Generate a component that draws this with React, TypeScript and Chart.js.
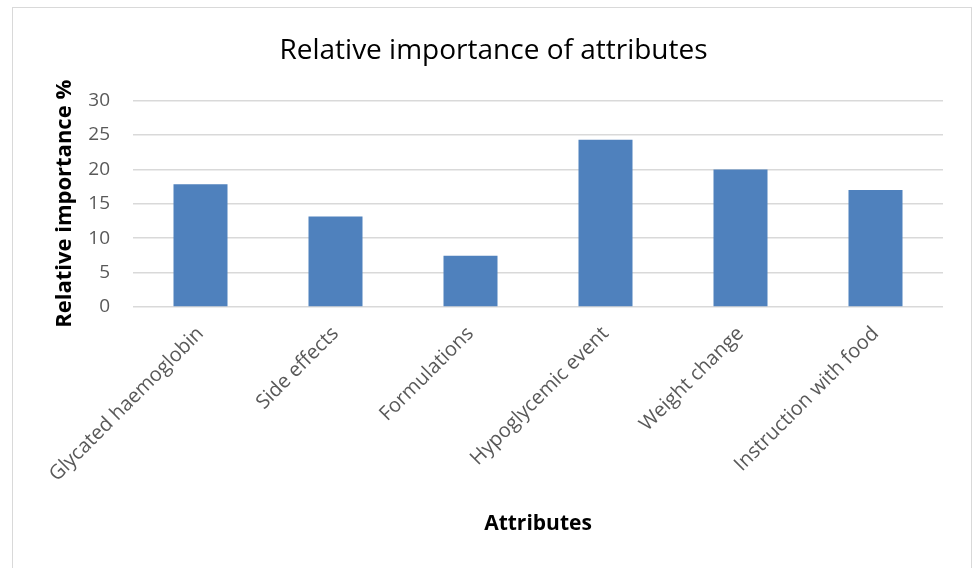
import React, { useEffect, useRef } from "react";
import { Chart, registerables } from "chart.js";

Chart.register(...registerables);

const categories = [
  "Glycated haemoglobin",
  "Side effects",
  "Formulations",
  "Hypoglycemic event",
  "Weight change",
  "Instruction with food",
];
const importance = [17.85, 13.15, 7.45, 24.3, 20.0, 17.0];
const titleText = "Relative importance of attributes";
const yTitle = "Relative importance %";
const xTitle = "Attributes";

const FONT = "'Open Sans', 'DejaVu Sans', sans-serif";

export default function App() {
  const ref = useRef<HTMLCanvasElement | null>(null);
  useEffect(() => {
    if (!ref.current) return;
    const chart = new Chart(ref.current, {
      type: "bar",
      data: {
        labels: categories,
        datasets: [
          {
            data: importance,
            backgroundColor: "#4f81bd",
            borderColor: "#4f81bd",
            borderWidth: 0,
            barPercentage: 0.4,
            categoryPercentage: 1,
          },
        ],
      },
      options: {
        responsive: false,
        animation: false,
        layout: { padding: { left: 31, right: 28, top: 0, bottom: 31 } },
        plugins: {
          legend: { display: false },
          tooltip: { enabled: false },
          title: {
            display: true,
            text: titleText,
            color: "#000000",
            font: { family: FONT, size: 28, weight: "normal" },
            padding: { top: 26, bottom: 33 },
          },
        },
        scales: {
          x: {
            grid: { display: false, drawTicks: false },
            border: { display: false },
            ticks: {
              color: "#595959",
              font: { family: FONT, size: 20 },
              maxRotation: 45,
              minRotation: 45,
              padding: 15,
              autoSkip: false,
            },
            title: {
              display: true,
              text: xTitle,
              color: "#000000",
              font: { family: FONT, size: 21, weight: "bold" },
              padding: { top: 0, bottom: 0 },
            },
            afterFit: (s: any) => {
              s.height = 230;
            },
          },
          y: {
            min: 0,
            max: 30,
            ticks: {
              stepSize: 5,
              color: "#595959",
              font: { family: FONT, size: 19 },
              padding: 23,
            },
            grid: { color: "#d9d9d9", lineWidth: 1.5, drawTicks: false },
            border: { display: false },
            title: {
              display: true,
              text: yTitle,
              color: "#000000",
              font: { family: FONT, size: 22, weight: "bold" },
              padding: { top: 8, bottom: 0 },
            },
            afterFit: (s: any) => {
              s.width = 89;
            },
          },
        },
      },
    });
    return () => chart.destroy();
  }, []);
  return (
    <div
      style={{
        position: "absolute",
        left: 12,
        top: 7,
        width: 960,
        height: 561,
        boxSizing: "border-box",
        borderTop: "1px solid #d9d9d9",
        borderLeft: "1px solid #d9d9d9",
        borderRight: "1px solid #d9d9d9",
        background: "#ffffff",
      }}
    >
      <canvas ref={ref} width={958} height={560} style={{ display: "block" }} />
    </div>
  );
}
